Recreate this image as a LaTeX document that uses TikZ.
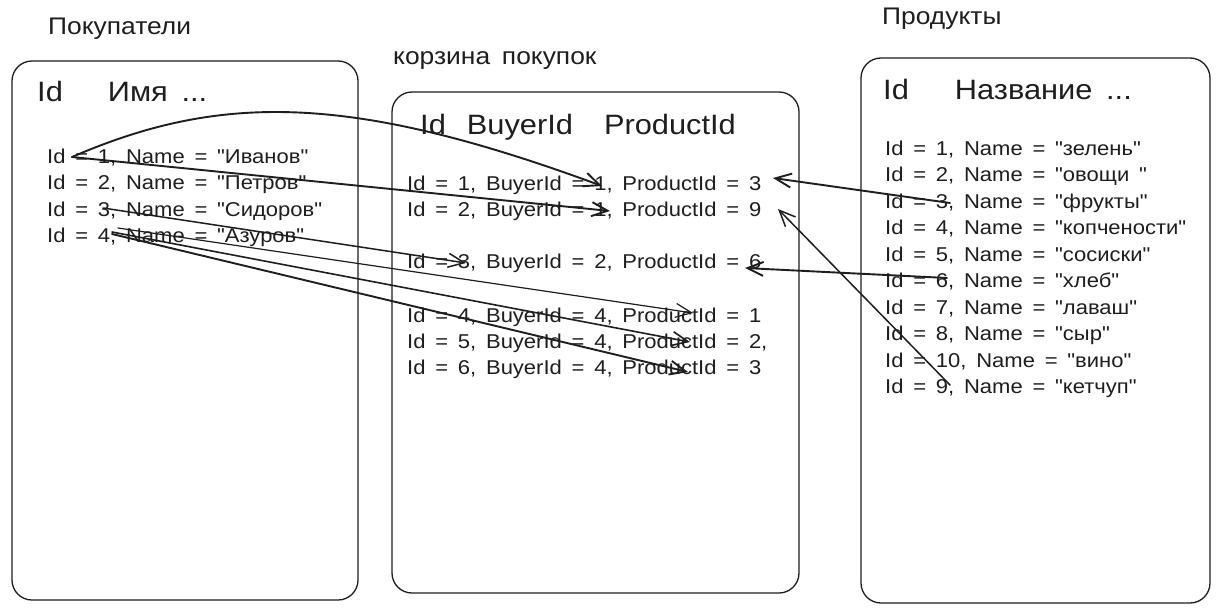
\documentclass[tikz,border=0pt]{standalone}
\usepackage{fontspec}
\newfontfamily\hand{Liberation Sans}[FakeStretch=1.1,WordSpace=1.6]
\usetikzlibrary{arrows.meta}
\definecolor{ink}{HTML}{1E1E1E}
\begin{document}
\begin{tikzpicture}[x=1pt,y=-1pt,
  box/.style={draw=ink,line width=1.3pt,rounded corners=20pt},
  row/.style={anchor=base west,inner sep=0pt,text=ink,font=\hand\fontsize{20}{24}\selectfont},
  head/.style={anchor=base west,inner sep=0pt,text=ink,font=\hand\fontsize{28}{34}\selectfont},
  ttl/.style={anchor=base west,inner sep=0pt,text=ink,font=\hand\fontsize{24}{29}\selectfont},
  link/.style={draw=ink,line width=1.9pt,line cap=round,-{Straight Barb[length=16pt,width=14pt]}},
  lite/.style={line width=1.2pt}
]
\useasboundingbox[fill=white] (0,0) rectangle (1225,615);

% boxes
\path[box] (12,61) rectangle (358,600);
\path[box] (392,92) rectangle (799,593);
\path[box] (861,58) rectangle (1210,603);

% titles
\node[ttl] (tbuy) at (48,35) {Покупатели};
\node[ttl] (tcart) at (393,65) {корзина покупок};
\node[ttl] (tprod) at (882,25) {Продукты};

% headers
\node[head] (hbuy) at (37,102) {Id\hspace*{45pt}Имя ...};
\node[head] (hcart) at (420,135) {Id\hspace*{21pt}BuyerId\hspace*{31pt}ProductId};
\node[head] (hprod) at (883,100) {Id\hspace*{46pt}Название ...};

% buyers
\node[row] (u1) at (47,163) {Id = 1, Name = "Иванов"};
\node[row] (u2) at (47,189.6) {Id = 2, Name = "Петров"};
\node[row] (u3) at (47,216.2) {Id = 3, Name = "Сидоров"};
\node[row] (u4) at (47,242.8) {Id = 4, Name = "Азуров"};

% cart
\node[row] (c1) at (407,190) {Id = 1, BuyerId = 1, ProductId = 3};
\node[row] (c2) at (407,216.5) {Id = 2, BuyerId = 1, ProductId = 9};
\node[row] (c3) at (407,268) {Id = 3, BuyerId = 2, ProductId = 6};
\node[row] (c4) at (407,322) {Id = 4, BuyerId = 4, ProductId = 1};
\node[row] (c5) at (407,348.5) {Id = 5, BuyerId = 4, ProductId = 2,};
\node[row] (c6) at (407,374) {Id = 6, BuyerId = 4, ProductId = 3};

% products
\node[row] (p1) at (885,155) {Id = 1, Name = "зелень"};
\node[row] (p2) at (885,181.5) {Id = 2, Name = "овощи "};
\node[row] (p3) at (885,208) {Id = 3, Name = "фрукты"};
\node[row] (p4) at (885,234.5) {Id = 4, Name = "копчености"};
\node[row] (p5) at (885,261) {Id = 5, Name = "сосиски"};
\node[row] (p6) at (885,287.5) {Id = 6, Name = "хлеб"};
\node[row] (p7) at (885,314) {Id = 7, Name = "лаваш"};
\node[row] (p8) at (885,340.5) {Id = 8, Name = "сыр"};
\node[row] (p10) at (885,367) {Id = 10, Name = "вино"};
\node[row] (p9) at (885,393.5) {Id = 9, Name = "кетчуп"};

% connector ends
\coordinate (u1s) at (72,157);
\coordinate (u3s) at (103,208);
\coordinate (u4a) at (118,228);
\coordinate (u4b) at (112,232);
\coordinate (u4c) at (112,234);
\coordinate (c1b) at (602,186);
\coordinate (c2b) at (610,211);
\coordinate (c3i) at (466,263);
\coordinate (c4p) at (693,313);
\coordinate (c5p) at (690,342);
\coordinate (c6p) at (688,372);
\coordinate (c1p) at (773,178);
\coordinate (c2p) at (778,209);
\coordinate (c3p) at (745,268);
\coordinate (p3s) at (950,203);
\coordinate (p6s) at (947,278);
\coordinate (p9s) at (950,385);

% buyer -> cart
\draw[link] (u1s) .. controls (220,93) and (350,93) .. (c1b);
\draw[link] (u1s) -- (c2b);
\draw[link,line width=1.5pt] (u3s) -- (c3i);
\draw[link,lite] (u4a) -- (c4p);
\draw[link,line width=1.6pt] (u4b) -- (c5p);
\draw[link] (u4c) -- (c6p);

% product -> cart
\draw[link] (p3s) -- (c1p);
\draw[link] (p6s) -- (c3p);
\draw[link,line width=1.5pt] (p9s) -- (c2p);
\end{tikzpicture}
\end{document}
